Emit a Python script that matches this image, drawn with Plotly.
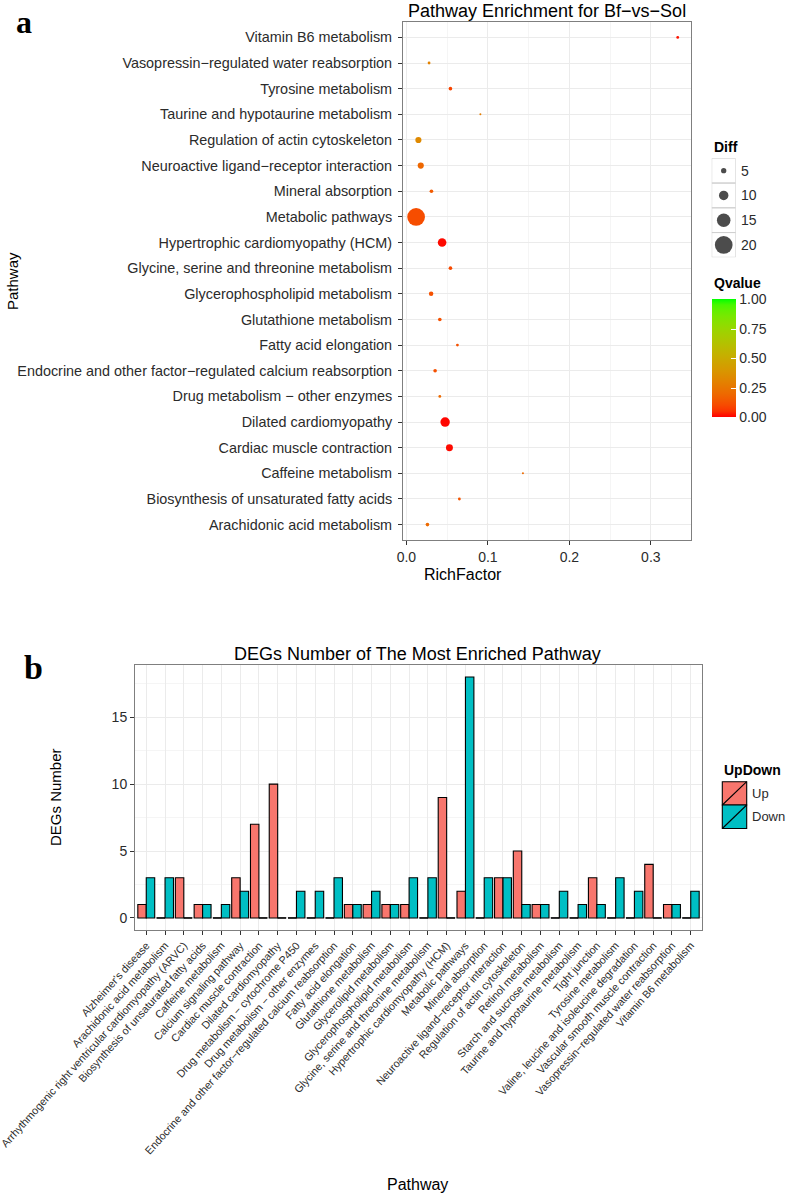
import plotly.graph_objects as go
import numpy as np

W, H = 787, 1197
FONT = "Liberation Sans, Arial, Helvetica, sans-serif"

# ---------------- Panel a data (bottom -> top order) ----------------
pathways_a = [
    "Arachidonic acid metabolism",
    "Biosynthesis of unsaturated fatty acids",
    "Caffeine metabolism",
    "Cardiac muscle contraction",
    "Dilated cardiomyopathy",
    "Drug metabolism \u2212 other enzymes",
    "Endocrine and other factor\u2212regulated calcium reabsorption",
    "Fatty acid elongation",
    "Glutathione metabolism",
    "Glycerophospholipid metabolism",
    "Glycine, serine and threonine metabolism",
    "Hypertrophic cardiomyopathy (HCM)",
    "Metabolic pathways",
    "Mineral absorption",
    "Neuroactive ligand\u2212receptor interaction",
    "Regulation of actin cytoskeleton",
    "Taurine and hypotaurine metabolism",
    "Tyrosine metabolism",
    "Vasopressin\u2212regulated water reabsorption",
    "Vitamin B6 metabolism",
]
rich_factor = [0.0258, 0.065, 0.143, 0.0528, 0.0475, 0.041, 0.0352, 0.0626, 0.041, 0.0303,
               0.054, 0.0438, 0.0119, 0.0307, 0.0176, 0.0147, 0.0908, 0.054, 0.0278, 0.333]
diff = [3, 2, 1, 7, 10, 2, 3, 2, 3, 4, 3, 9, 20, 3, 6, 6, 1, 3, 2, 2]
qvalue = [0.2, 0.13, 0.2, 0.01, 0.005, 0.2, 0.12, 0.12, 0.12, 0.12,
          0.1, 0.01, 0.11, 0.15, 0.19, 0.33, 0.28, 0.09, 0.3, 0.02]
diff_legend = [5, 10, 15, 20]
q_ticks = [0, 0.25, 0.5, 0.75, 1.0]
x_ticks_a = [0.0, 0.1, 0.2, 0.3]

# ---------------- Panel b data ----------------
pathways_b = [
    "Alzheimer's disease",
    "Arachidonic acid metabolism",
    "Arrhythmogenic right ventricular cardiomyopathy (ARVC)",
    "Biosynthesis of unsaturated fatty acids",
    "Caffeine metabolism",
    "Calcium signaling pathway",
    "Cardiac muscle contraction",
    "Dilated cardiomyopathy",
    "Drug metabolism \u2212 cytochrome P450",
    "Drug metabolism \u2212 other enzymes",
    "Endocrine and other factor\u2212regulated calcium reabsorption",
    "Fatty acid elongation",
    "Glutathione metabolism",
    "Glycerolipid metabolism",
    "Glycerophospholipid metabolism",
    "Glycine, serine and threonine metabolism",
    "Hypertrophic cardiomyopathy (HCM)",
    "Metabolic pathways",
    "Mineral absorption",
    "Neuroactive ligand\u2212receptor interaction",
    "Regulation of actin cytoskeleton",
    "Retinol metabolism",
    "Starch and sucrose metabolism",
    "Taurine and hypotaurine metabolism",
    "Tight junction",
    "Tyrosine metabolism",
    "Valine, leucine and isoleucine degradation",
    "Vascular smooth muscle contraction",
    "Vasopressin\u2212regulated water reabsorption",
    "Vitamin B6 metabolism",
]
up_counts = [1, 0, 3, 1, 0, 3, 7, 10, 0, 0, 0, 1, 1, 1, 1, 0, 9, 2, 0, 3, 5, 1, 0, 0, 3, 0, 0, 4, 1, 0]
down_counts = [3, 3, 0, 1, 1, 2, 0, 0, 2, 2, 3, 1, 2, 1, 3, 3, 0, 18, 3, 3, 1, 1, 2, 1, 1, 3, 2, 0, 1, 2]
y_ticks_b = [0, 5, 10, 15]
UP_COL, DOWN_COL = "#F8766D", "#00BFC4"

# ---------------- helpers ----------------
def px(x):
    return x / W

def py(y):
    return 1 - y / H


def _lin(c):
    c = c / 255.0
    return c / 12.92 if c <= 0.04045 else ((c + 0.055) / 1.055) ** 2.4


def _gam(c):
    c = max(0.0, min(1.0, c))
    v = 12.92 * c if c <= 0.0031308 else 1.055 * c ** (1 / 2.4) - 0.055
    return int(round(v * 255))


def rgb_to_lab(r, g, b):
    R, G, B = _lin(r), _lin(g), _lin(b)
    X = 0.4124 * R + 0.3576 * G + 0.1805 * B
    Y = 0.2126 * R + 0.7152 * G + 0.0722 * B
    Z = 0.0193 * R + 0.1192 * G + 0.9505 * B
    Xn, Yn, Zn = 0.95047, 1.0, 1.08883
    f = lambda t: t ** (1 / 3) if t > 0.008856 else 7.787 * t + 16 / 116
    fx, fy, fz = f(X / Xn), f(Y / Yn), f(Z / Zn)
    return 116 * fy - 16, 500 * (fx - fy), 200 * (fy - fz)


def lab_to_rgb(L, a, b):
    fy = (L + 16) / 116
    fx = fy + a / 500
    fz = fy - b / 200
    finv = lambda t: t ** 3 if t > 0.206893 else (t - 16 / 116) / 7.787
    X, Y, Z = 0.95047 * finv(fx), finv(fy), 1.08883 * finv(fz)
    R = 3.2406 * X - 1.5372 * Y - 0.4986 * Z
    G = -0.9689 * X + 1.8758 * Y + 0.0415 * Z
    B = 0.0557 * X - 0.2040 * Y + 1.0570 * Z
    return _gam(R), _gam(G), _gam(B)


low, high = rgb_to_lab(255, 0, 0), rgb_to_lab(0, 255, 0)
colorscale = []
for t in np.linspace(0, 1, 21):
    lab = [low[i] + (high[i] - low[i]) * t for i in range(3)]
    r, g, b = lab_to_rgb(*lab)
    colorscale.append([float(t), f"rgb({r},{g},{b})"])

dmin_v, dmax_v = min(diff), max(diff)


def size_scale(v):
    return 2.0 + 15.7 * (v - dmin_v) / (dmax_v - dmin_v)


TXT = "#2b2b2b"
GRID = "#EBEBEB"
MINOR = "#F5F5F5"
BORDER = "#7F7F7F"

fig = go.Figure()

# ---------------- Panel a ----------------
fig.add_trace(go.Scatter(
    x=rich_factor, y=pathways_a, mode="markers",
    marker=dict(size=[size_scale(v) for v in diff], color=qvalue, cmin=0, cmax=1,
                colorscale=colorscale, line=dict(width=0), opacity=1,
                colorbar=dict(
                    x=px(711.7), xanchor="left", y=py(358.5), yanchor="middle",
                    lenmode="pixels", len=118, thickness=24, xpad=0, ypad=0,
                    outlinewidth=0, tickvals=q_ticks, tickformat=".2f",
                    ticks="inside", ticklen=5, tickcolor="white", tickwidth=1,
                    tickfont=dict(family=FONT, size=14, color=TXT),
                )),
    xaxis="x", yaxis="y", showlegend=False, hoverinfo="skip",
))

# size legend markers
fig.add_trace(go.Scatter(
    x=[0] * len(diff_legend), y=list(range(1, len(diff_legend) + 1)), mode="markers",
    marker=dict(size=[size_scale(v) for v in diff_legend], color="black", line=dict(width=0)),
    xaxis="x3", yaxis="y3", showlegend=False, hoverinfo="skip",
))

# ---------------- Panel b ----------------
idx = list(range(len(pathways_b)))
fig.add_trace(go.Bar(x=idx, y=up_counts, name="Up", marker=dict(color=UP_COL, line=dict(color="black", width=1.1)),
                     xaxis="x2", yaxis="y2", showlegend=False, offsetgroup="up"))
fig.add_trace(go.Bar(x=idx, y=down_counts, name="Down", marker=dict(color=DOWN_COL, line=dict(color="black", width=1.1)),
                     xaxis="x2", yaxis="y2", showlegend=False, offsetgroup="down"))

# zero-height bars drawn as dashes (dodge width 0.9 -> each bar 0.45)
half = 0.45
dx, dy = [], []
for i, (u, d) in enumerate(zip(up_counts, down_counts)):
    if u == 0:
        dx += [i - half, i, None]
        dy += [0, 0, None]
    if d == 0:
        dx += [i, i + half, None]
        dy += [0, 0, None]
fig.add_trace(go.Scatter(x=dx, y=dy, mode="lines", line=dict(color="black", width=1.3),
                         xaxis="x2", yaxis="y2", showlegend=False, hoverinfo="skip"))

axis_common = dict(showline=True, mirror=True, linecolor=BORDER, linewidth=1,
                   ticks="outside", ticklen=4, tickcolor="#333333", tickwidth=1,
                   gridcolor=GRID, gridwidth=1, zeroline=False, automargin=False)

shapes = []
# size legend key boxes
for k in range(1, len(diff_legend) + 1):
    shapes.append(dict(type="rect", xref="x3", yref="y3", x0=-0.5, x1=0.5, y0=k - 0.5, y1=k + 0.5,
                       line=dict(color="#D0D0D0", width=1), fillcolor="rgba(0,0,0,0)", layer="below"))

# UpDown legend keys
for (y0, y1, col) in [(781.7, 805.0, UP_COL), (805.0, 828.5, DOWN_COL)]:
    shapes.append(dict(type="rect", xref="paper", yref="paper", x0=px(722.3), x1=px(746.7),
                       y0=py(y1), y1=py(y0), fillcolor=col, line=dict(color="black", width=1.1)))
    shapes.append(dict(type="line", xref="paper", yref="paper", x0=px(722.3), x1=px(746.7),
                       y0=py(y1), y1=py(y0), line=dict(color="black", width=1.1)))

annotations = [
    dict(text="<b>a</b>", x=px(14), y=py(22), xref="paper", yref="paper", xanchor="left", yanchor="middle",
         showarrow=False, font=dict(family="Liberation Serif, Times New Roman, serif", size=32, color="black")),
    dict(text="<b>b</b>", x=px(22), y=py(667), xref="paper", yref="paper", xanchor="left", yanchor="middle",
         showarrow=False, font=dict(family="Liberation Serif, Times New Roman, serif", size=34, color="black")),
    dict(text="Pathway Enrichment for Bf\u2212vs\u2212Sol", x=px(547), y=py(11), xref="paper", yref="paper",
         xanchor="center", yanchor="middle", showarrow=False, font=dict(family=FONT, size=18, color="black")),
    dict(text="Pathway", x=px(12), y=py(281), xref="paper", yref="paper", textangle=-90,
         xanchor="center", yanchor="middle", showarrow=False, font=dict(family=FONT, size=15, color="black")),
    dict(text="RichFactor", x=px(463), y=py(575), xref="paper", yref="paper",
         xanchor="center", yanchor="middle", showarrow=False, font=dict(family=FONT, size=16, color="black")),
    dict(text="<b>Diff</b>", x=px(711.7), y=py(147), xref="paper", yref="paper",
         xanchor="left", yanchor="middle", showarrow=False, font=dict(family=FONT, size=14, color="black")),
    dict(text="<b>Qvalue</b>", x=px(711.7), y=py(283), xref="paper", yref="paper",
         xanchor="left", yanchor="middle", showarrow=False, font=dict(family=FONT, size=14, color="black")),
    dict(text="DEGs Number of The Most Enriched Pathway", x=px(418), y=py(654), xref="paper", yref="paper",
         xanchor="center", yanchor="middle", showarrow=False, font=dict(family=FONT, size=18, color="black")),
    dict(text="DEGs Number", x=px(55), y=py(797), xref="paper", yref="paper", textangle=-90,
         xanchor="center", yanchor="middle", showarrow=False, font=dict(family=FONT, size=15, color="black")),
    dict(text="Pathway", x=px(418), y=py(1184), xref="paper", yref="paper",
         xanchor="center", yanchor="middle", showarrow=False, font=dict(family=FONT, size=16, color="black")),
    dict(text="<b>UpDown</b>", x=px(722.3), y=py(770), xref="paper", yref="paper",
         xanchor="left", yanchor="middle", showarrow=False, font=dict(family=FONT, size=14, color="black")),
    dict(text="Up", x=px(750), y=py(793.3), xref="paper", yref="paper",
         xanchor="left", yanchor="middle", showarrow=False, font=dict(family=FONT, size=13, color=TXT)),
    dict(text="Down", x=px(750), y=py(816.8), xref="paper", yref="paper",
         xanchor="left", yanchor="middle", showarrow=False, font=dict(family=FONT, size=13, color=TXT)),
]
for k, v in enumerate(diff_legend, start=1):
    annotations.append(dict(text=str(v), x=0.5, y=k, xref="x3", yref="y3", xanchor="left", yanchor="middle",
                            xshift=3, showarrow=False, font=dict(family=FONT, size=14, color=TXT)))

fig.update_layout(
    width=W, height=H, margin=dict(l=0, r=0, t=0, b=0, pad=0, autoexpand=False),
    paper_bgcolor="white", plot_bgcolor="white",
    font=dict(family=FONT, color=TXT),
    barmode="group", bargap=0.1, bargroupgap=0,
    xaxis=dict(domain=[px(403), px(691)], range=[-0.0042, 0.3493], anchor="y",
               tickvals=x_ticks_a, tickformat=".1f", tickfont=dict(size=14, color=TXT),
               minor=dict(dtick=0.05, showgrid=True, gridcolor=MINOR, ticks=""), **axis_common),
    yaxis=dict(domain=[py(540), py(22)], range=[-0.6, len(pathways_a) - 0.4], anchor="x",
               type="category", categoryorder="array", categoryarray=pathways_a,
               tickfont=dict(size=14.4, color=TXT), ticklabelstandoff=3, **axis_common),
    xaxis2=dict(domain=[px(135), px(702)], range=[-0.6, len(pathways_b) - 0.4], anchor="y2",
                tickvals=idx, ticktext=pathways_b, tickangle=-48, tickfont=dict(size=10.8, color=TXT),
                ticklabeloverflow="allow", **axis_common),
    yaxis2=dict(domain=[py(930), py(665)], range=[-0.9, 18.9], anchor="x2",
                tickvals=y_ticks_b, tickfont=dict(size=14, color=TXT),
                minor=dict(dtick=2.5, showgrid=True, gridcolor=MINOR, ticks=""), **axis_common),
    xaxis3=dict(domain=[px(711.7), px(735.7)], range=[-0.5, 0.5], anchor="y3", visible=False,
                fixedrange=True, automargin=False),
    yaxis3=dict(domain=[py(257.3), py(158.3)], range=[len(diff_legend) + 0.5, 0.5], anchor="x3",
                visible=False, fixedrange=True, automargin=False),
    shapes=shapes, annotations=annotations,
)

fig.write_html("out.html", config={"displayModeBar": False},
               post_script="document.body.style.margin='0px';document.body.style.padding='0px';")
